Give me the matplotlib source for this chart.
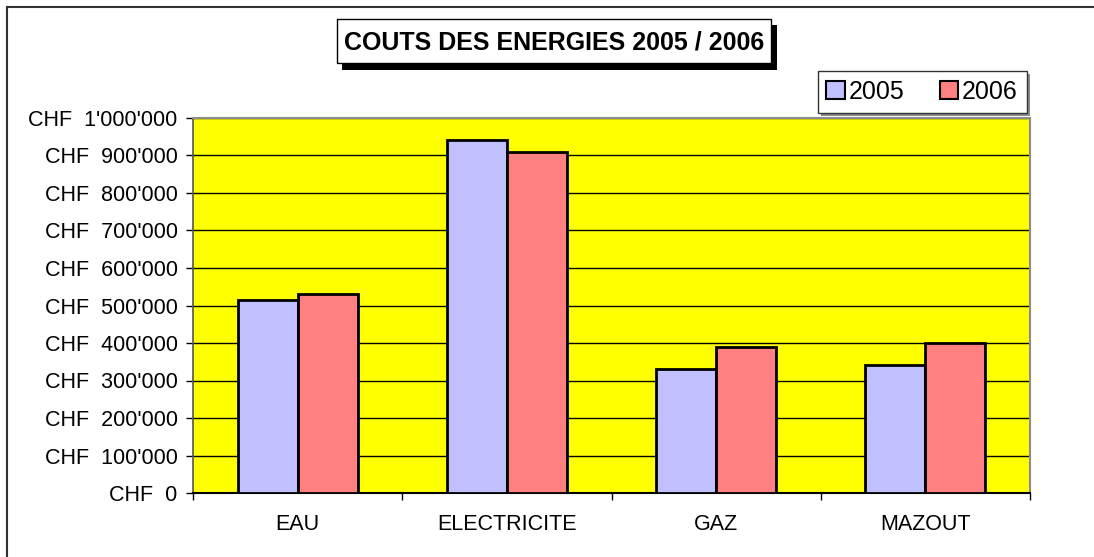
import numpy as np
import matplotlib
matplotlib.use("Agg")
import matplotlib.pyplot as plt
from matplotlib.patches import Rectangle
from matplotlib.lines import Line2D
from matplotlib.ticker import FuncFormatter, MultipleLocator

plt.rcParams['font.family'] = ['Liberation Sans', 'DejaVu Sans']

# data
categories = ['EAU', 'ELECTRICITE', 'GAZ', 'MAZOUT']
costs_2005 = [515000, 940000, 330000, 342000]
costs_2006 = [532000, 910000, 390000, 400000]
series_labels = ['2005', '2006']
title = 'COUTS DES ENERGIES 2005 / 2006'

W, H = 1094, 557
fig = plt.figure(figsize=(W / 100, H / 100), dpi=100)
fig.patch.set_facecolor('white')

# outer chart frame (left and top edges visible)
fig.add_artist(Line2D([7 / W, 7 / W], [0, 1 - 7 / H], transform=fig.transFigure,
                      color='#333333', lw=1.5))
fig.add_artist(Line2D([7 / W, 1], [1 - 7 / H, 1 - 7 / H], transform=fig.transFigure,
                      color='#333333', lw=1.5))

ax = fig.add_axes([193 / W, 1 - 493 / H, (1030 - 193) / W, (493 - 118) / H])
ax.set_facecolor('#FFFF00')

x = np.arange(len(categories))
w = 0.287
ax.bar(x - w / 2, costs_2005, w, color='#C0C0FF', edgecolor='black', lw=2,
       label=series_labels[0], zorder=3)
ax.bar(x + w / 2, costs_2006, w, color='#FF8080', edgecolor='black', lw=2,
       label=series_labels[1], zorder=3)

ax.set_ylim(0, 1000000)
ax.set_xlim(-0.5, len(categories) - 0.5)
ax.yaxis.set_major_locator(MultipleLocator(100000))


def chf(v, pos):
    if v == 0:
        return 'CHF  0'
    return 'CHF  ' + f'{int(round(v)):,}'.replace(',', "'")


ax.yaxis.set_major_formatter(FuncFormatter(chf))
ax.grid(axis='y', color='black', lw=1, zorder=1)

ax.set_xticks(x)
ax.set_xticklabels(categories)
ax.set_xticks(np.arange(len(categories) + 1) - 0.5, minor=True)
ax.tick_params(axis='x', which='major', length=0, pad=15, labelsize=15.5)
ax.tick_params(axis='x', which='minor', length=5, width=1, color='black', direction='out')
ax.tick_params(axis='y', length=5, width=1, pad=6, labelsize=15.5, direction='out')

for side in ['top', 'right']:
    ax.spines[side].set_color('#8c8c8c')
    ax.spines[side].set_linewidth(1.5)
ax.spines['left'].set_color('#555555')
ax.spines['left'].set_linewidth(1.2)
ax.spines['bottom'].set_color('black')
ax.spines['bottom'].set_linewidth(1.5)

# title box with shadow
fig.add_artist(Rectangle((342 / W, 1 - 70 / H), (777 - 342) / W, (70 - 25) / H,
                         transform=fig.transFigure, facecolor='black', edgecolor='none'))
fig.add_artist(Rectangle((337 / W, 1 - 63 / H), (771 - 337) / W, (63 - 19) / H,
                         transform=fig.transFigure, facecolor='white',
                         edgecolor='black', lw=1))
fig.text((337 + 771) / 2 / W, 1 - 42 / H, title, ha='center', va='center',
         fontsize=18, fontweight='bold')

# legend
leg = fig.legend(loc='center', bbox_to_anchor=(922 / W, 1 - 92 / H), ncol=2,
                 fontsize=18, frameon=True, fancybox=False, handlelength=0.75,
                 handleheight=0.75, handletextpad=0.15, columnspacing=1.4,
                 borderpad=0.35, borderaxespad=0)
leg.get_frame().set_edgecolor('#333333')
leg.get_frame().set_linewidth(1)
leg.get_frame().set_alpha(1)
for p in leg.get_patches():
    p.set_linewidth(1.5)

# gray shadow behind the legend box
fig.canvas.draw()
bb = leg.get_frame().get_window_extent()
fig.add_artist(Rectangle(((bb.x0 + 3) / W, (bb.y0 - 3) / H), bb.width / W, bb.height / H,
                         transform=fig.transFigure, facecolor='#8c8c8c',
                         edgecolor='none', zorder=1))

fig.savefig('out.png', dpi=100)
